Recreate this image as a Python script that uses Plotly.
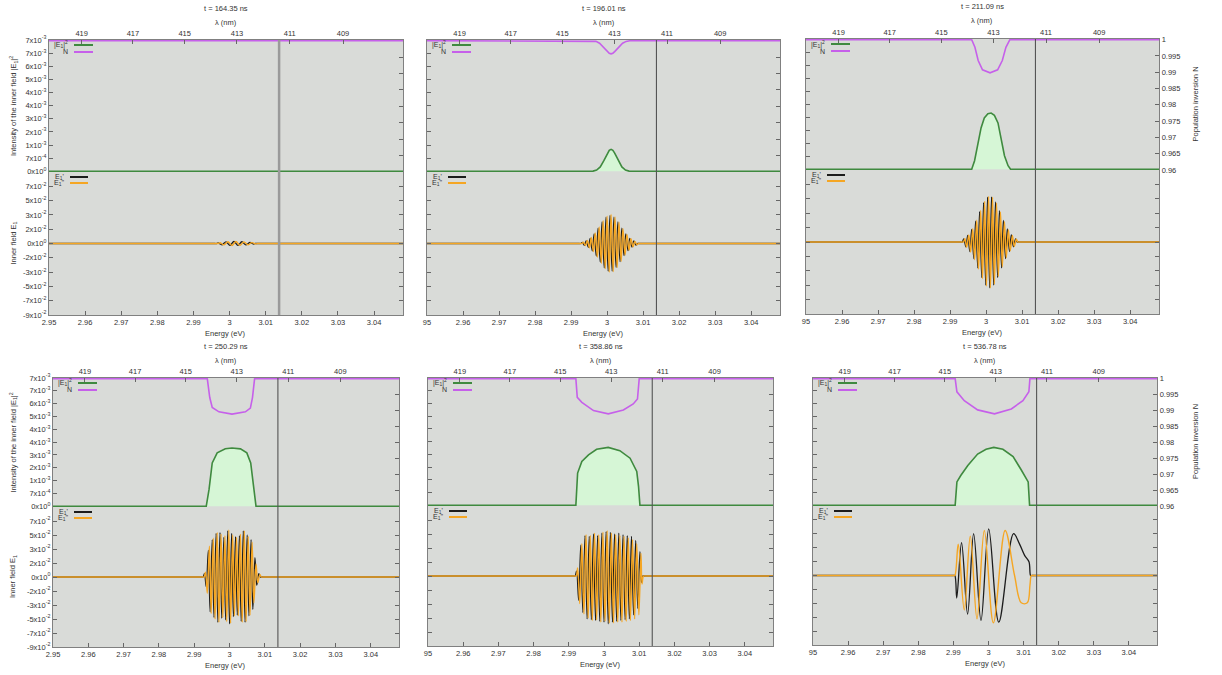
import plotly.graph_objects as go

W, H = 1222, 675
HC_EV_NM = 1239.84  # photon energy (eV) * wavelength (nm)

# ---------------------------------------------------------------- data
times_ns = ["164.35", "196.01", "211.09", "250.29", "358.86", "536.78"]
energy_min, energy_max = 2.95, 3.048
energy_tickvals = [2.95, 2.96, 2.97, 2.98, 2.99, 3.00, 3.01, 3.02, 3.03, 3.04]
energy_ticktext = ["2.95", "2.96", "2.97", "2.98", "2.99", "3", "3.01", "3.02", "3.03", "3.04"]
energy_ticktext_cut = ["95", "2.96", "2.97", "2.98", "2.99", "3", "3.01", "3.02", "3.03", "3.04"]
wavelength_ticks_nm = [419, 417, 415, 413, 411, 409]
transition_energy = 3.0137

intensity_tickvals = [0, 0.00073, 0.00146, 0.00219, 0.00292, 0.00365, 0.00438, 0.00511, 0.00584, 0.00657, 0.0073]
intensity_ticktext = ["0x10<sup>0</sup>", "7x10<sup>-4</sup>", "1x10<sup>-3</sup>", "2x10<sup>-3</sup>",
                      "3x10<sup>-3</sup>", "4x10<sup>-3</sup>", "4x10<sup>-3</sup>", "5x10<sup>-3</sup>",
                      "6x10<sup>-3</sup>", "7x10<sup>-3</sup>", "7x10<sup>-3</sup>"]
field_tickvals = [-0.0865, -0.0692, -0.0519, -0.0346, -0.0173, 0, 0.0173, 0.0346, 0.0519, 0.0692, 0.0865]
field_ticktext = ["-9x10<sup>-2</sup>", "-7x10<sup>-2</sup>", "-5x10<sup>-2</sup>", "-3x10<sup>-2</sup>",
                  "-2x10<sup>-2</sup>", "0x10<sup>0</sup>", "2x10<sup>-2</sup>", "3x10<sup>-2</sup>",
                  "5x10<sup>-2</sup>", "7x10<sup>-2</sup>", " "]
inversion_tickvals = [0.96, 0.965, 0.97, 0.975, 0.98, 0.985, 0.99, 0.995, 1.0]
inversion_ticktext = ["0.96", "0.965", "0.97", "0.975", "0.98", "0.985", "0.99", "0.995", "1"]

# ---- panel 1 (t = 164.35 ns)
int_e_1 = [2.95, 3.048]
int_1 = [0.0, 0.0]
inv_e_1 = [2.95, 3.048]
inv_1 = [1.0, 1.0]
re_e_1 = [2.95, 2.9960, 2.9964, 2.9968, 2.9979, 2.9990, 3.0001, 3.0012, 3.0023, 3.0034, 3.0045, 3.0056, 3.0067,
          3.0071, 3.0075, 3.048]
re_1 = [0, 0, 0, 0.0008, -0.0015, 0.0020, -0.0023, 0.0024, -0.0023, 0.0021, -0.0017, 0.0012, -0.0006, 0, 0, 0]
im_e_1 = [2.95, 2.9965, 2.9969, 2.99735, 2.99845, 2.99955, 3.00065, 3.00175, 3.00285, 3.00395, 3.00505, 3.00615,
          3.00725, 3.0077, 3.0081, 3.048]
im_1 = [0, 0, 0, 0.0009, -0.0016, 0.0021, -0.0024, 0.0024, -0.0022, 0.0019, -0.0015, 0.0010, -0.0005, 0, 0, 0]

# ---- panel 2 (t = 196.01 ns)
int_e_2 = [2.95, 2.9961, 2.9971, 2.9981, 2.9991, 3.0001, 3.0006, 3.0011, 3.0016, 3.0021, 3.0031, 3.0041, 3.0051,
           3.0061, 3.048]
int_2 = [0, 0.00001, 0.00007, 0.00024, 0.00059, 0.00101, 0.00116, 0.00122, 0.00116, 0.00101, 0.00059, 0.00024,
         0.00007, 0.00001, 0]
inv_e_2 = [2.95, 2.9959, 2.9969, 2.9979, 2.9990, 3.0001, 3.0006, 3.0011, 3.0016, 3.0021, 3.0032, 3.0043, 3.0053,
           3.0063, 3.048]
inv_2 = [1, 0.99996, 0.99977, 0.99922, 0.99808, 0.99668, 0.99618, 0.99600, 0.99618, 0.99668, 0.99808, 0.99922,
         0.99977, 0.99996, 1]
re_e_2 = [2.95, 2.9923, 2.9927, 2.9931, 2.9937, 2.9942, 2.9948, 2.9953, 2.9959, 2.9964, 2.9970, 2.9975, 2.9981,
          2.9986, 2.9992, 2.9997, 3.0003, 3.0008, 3.0014, 3.0019, 3.0025, 3.0030, 3.0036, 3.0041, 3.0047, 3.0052,
          3.0058, 3.0063, 3.0069, 3.0074, 3.0080, 3.0084, 3.0088, 3.048]
re_2 = [0, 0, 0, 0.0013, -0.0021, 0.0030, -0.0046, 0.0063, -0.0090, 0.0116, -0.0153, 0.0186, -0.0227, 0.0260,
        -0.0295, 0.0318, -0.0335, 0.0340, -0.0333, 0.0318, -0.0290, 0.0260, -0.0220, 0.0186, -0.0146, 0.0116,
        -0.0085, 0.0063, -0.0043, 0.0030, -0.0019, 0, 0, 0]
im_e_2 = [2.95, 2.9926, 2.9930, 2.9934, 2.9940, 2.9945, 2.9951, 2.9956, 2.9962, 2.9967, 2.9973, 2.9978, 2.9984,
          2.9989, 2.9995, 3.0000, 3.0006, 3.0011, 3.0017, 3.0022, 3.0028, 3.0033, 3.0039, 3.0044, 3.0050, 3.0055,
          3.0061, 3.0066, 3.0072, 3.0077, 3.0083, 3.0087, 3.0091, 3.048]
im_2 = [0, 0, 0, 0.0016, -0.0025, 0.0036, -0.0052, 0.0072, -0.0098, 0.0128, -0.0165, 0.0200, -0.0240, 0.0275,
        -0.0305, 0.0330, -0.0345, 0.0350, -0.0340, 0.0322, -0.0292, 0.0258, -0.0216, 0.0180, -0.0140, 0.0108,
        -0.0079, 0.0057, -0.0039, 0.0026, -0.0016, 0, 0, 0]

# ---- panel 3 (t = 211.09 ns)
int_e_3 = [2.95, 2.9960, 2.9968, 2.9977, 2.9986, 2.9995, 3.0005, 3.0014, 3.0023, 3.0033, 3.0042, 3.0051, 3.0061,
           3.0068, 3.048]
int_3 = [0, 0, 0.00048, 0.0014, 0.00232, 0.00288, 0.00311, 0.00315, 0.00302, 0.0026, 0.00177, 0.00076, 0.0002,
         0, 0]
inv_e_3 = [2.95, 2.9960, 2.9969, 2.9978, 2.9990, 3.0011, 3.0032, 3.0045, 3.0055, 3.0066, 3.048]
inv_3 = [1, 1, 0.99766, 0.99359, 0.99074, 0.98982, 0.99074, 0.99359, 0.99766, 1, 1]
re_e_3 = [2.95, 2.9930, 2.9934, 2.9938, 2.9944, 2.9949, 2.9955, 2.9960, 2.9966, 2.9971, 2.9977, 2.9982, 2.9988,
          2.9993, 2.9999, 3.0004, 3.0010, 3.0015, 3.0021, 3.0026, 3.0032, 3.0037, 3.0043, 3.0048, 3.0054, 3.0059,
          3.0065, 3.0070, 3.0076, 3.0082, 3.0086, 3.0090, 3.048]
re_3 = [0, 0, 0, 0.0037, -0.0057, 0.0079, -0.0114, 0.0150, -0.0200, 0.0249, -0.0312, 0.0366, -0.0427, 0.0474,
        -0.0517, 0.0540, -0.0550, 0.0543, -0.0517, 0.0481, -0.0427, 0.0376, -0.0312, 0.0259, -0.0200, 0.0158,
        -0.0114, 0.0085, -0.0057, 0.0037, 0, 0, 0]
im_e_3 = [2.95, 2.9933, 2.9937, 2.9941, 2.9946, 2.9952, 2.9957, 2.9963, 2.9968, 2.9974, 2.9979, 2.9985, 2.9990,
          2.9996, 3.0001, 3.0007, 3.0012, 3.0018, 3.0023, 3.0029, 3.0034, 3.0040, 3.0045, 3.0051, 3.0056, 3.0062,
          3.0067, 3.0073, 3.0078, 3.0084, 3.0088, 3.0092, 3.048]
im_3 = [0, 0, 0, 0.0040, -0.0062, 0.0086, -0.0122, 0.0160, -0.0212, 0.0262, -0.0325, 0.0380, -0.0440, 0.0488,
        -0.0528, 0.0548, -0.0552, 0.0538, -0.0508, 0.0468, -0.0412, 0.0360, -0.0296, 0.0244, -0.0188, 0.0147,
        -0.0105, 0.0078, -0.0052, 0.0033, 0, 0, 0]

# ---- panel 4 (t = 250.29 ns)
int_e_4 = [2.95, 2.9934, 2.9942, 2.9951, 2.9965, 2.9988, 3.0007, 3.0031, 3.0049, 3.0060, 3.0068, 3.0075, 3.048]
int_4 = [0, 0, 0.00096, 0.00247, 0.00304, 0.00327, 0.00332, 0.00327, 0.00304, 0.00247, 0.00115, 0, 0]
inv_e_4 = [2.95, 2.9937, 2.9944, 2.9951, 2.9970, 3.0007, 3.0045, 3.0059, 3.0065, 3.0071, 3.048]
inv_4 = [1, 1, 0.99411, 0.9910, 0.98966, 0.98894, 0.98966, 0.9908, 0.99411, 1, 1]
re_e_4 = [2.95, 2.9921, 2.9925, 2.9929, 2.9934, 2.9940, 2.9945, 2.9951, 2.9956, 2.9962, 2.9967, 2.9973, 2.9978,
          2.9984, 2.9989, 2.9995, 3.0000, 3.0006, 3.0011, 3.0017, 3.0022, 3.0028, 3.0033, 3.0039, 3.0044, 3.0050,
          3.0055, 3.0061, 3.0066, 3.0072, 3.0077, 3.0083, 3.0087, 3.0091, 3.048]
re_4 = [0, 0, 0, 0.004, -0.012, 0.033, -0.043, 0.046, -0.050, 0.054, -0.056, 0.055, -0.051, 0.049, -0.053, 0.057,
        -0.058, 0.054, -0.049, 0.050, -0.047, 0.051, -0.055, 0.057, -0.056, 0.052, -0.048, 0.046, -0.040, 0.024,
        -0.010, 0.004, 0, 0, 0]
im_e_4 = [2.95, 2.9924, 2.9928, 2.9932, 2.9937, 2.9943, 2.9948, 2.9954, 2.9959, 2.9965, 2.9970, 2.9976, 2.9981,
          2.9987, 2.9992, 2.9998, 3.0003, 3.0009, 3.0014, 3.0020, 3.0025, 3.0031, 3.0036, 3.0042, 3.0047, 3.0053,
          3.0058, 3.0064, 3.0069, 3.0075, 3.0080, 3.0086, 3.0090, 3.0094, 3.048]
im_4 = [0, 0, 0, 0.006, -0.020, 0.038, -0.045, 0.048, -0.052, 0.055, -0.056, 0.053, -0.050, 0.051, -0.055, 0.058,
        -0.057, 0.052, -0.048, 0.049, -0.048, 0.053, -0.056, 0.057, -0.055, 0.050, -0.047, 0.043, -0.032, 0.016,
        -0.007, 0.003, 0, 0, 0]

# ---- panel 5 (t = 358.86 ns)
int_e_5 = [2.95, 2.9920, 2.9925, 2.9937, 2.9956, 2.9979, 3.0012, 3.0045, 3.0074, 3.0093, 3.0098, 3.0102, 3.048]
int_5 = [0, 0, 0.00185, 0.00251, 0.00289, 0.00321, 0.00332, 0.00313, 0.0027, 0.00194, 0.00109, 0, 0]
inv_e_5 = [2.95, 2.9920, 2.9924, 2.9937, 2.9970, 3.0012, 3.0055, 3.0083, 3.0095, 3.0100, 3.048]
inv_5 = [1, 1, 0.99411, 0.99256, 0.98997, 0.98894, 0.99018, 0.99204, 0.99359, 1, 1]
re_e_5 = [2.95, 2.9914, 2.9918, 2.9922, 2.9928, 2.9934, 2.9940, 2.9946, 2.9952, 2.9958, 2.9964, 2.9970, 2.9976,
          2.9982, 2.9988, 2.9994, 3.0000, 3.0006, 3.0012, 3.0018, 3.0024, 3.0030, 3.0036, 3.0042, 3.0048, 3.0054,
          3.0060, 3.0066, 3.0072, 3.0078, 3.0084, 3.0090, 3.0096, 3.0102, 3.0106, 3.0110, 3.0114, 3.048]
re_5 = [0, 0, 0, 0.006, -0.030, 0.038, -0.045, 0.050, -0.053, 0.049, -0.054, 0.052, -0.055, 0.050, -0.056, 0.053,
        -0.057, 0.055, -0.059, 0.054, -0.057, 0.052, -0.056, 0.053, -0.055, 0.051, -0.054, 0.050, -0.053, 0.049,
        -0.048, 0.044, -0.040, 0.030, -0.008, 0, 0, 0]
im_e_5 = [2.95, 2.9917, 2.9921, 2.9925, 2.9931, 2.9937, 2.9943, 2.9949, 2.9955, 2.9961, 2.9967, 2.9973, 2.9979,
          2.9985, 2.9991, 2.9997, 3.0003, 3.0009, 3.0015, 3.0021, 3.0027, 3.0033, 3.0039, 3.0045, 3.0051, 3.0057,
          3.0063, 3.0069, 3.0075, 3.0081, 3.0087, 3.0093, 3.0099, 3.0105, 3.0108, 3.0112, 3.0116, 3.048]
im_5 = [0, 0, 0, 0.010, -0.034, 0.040, -0.047, 0.051, -0.052, 0.050, -0.055, 0.053, -0.054, 0.051, -0.057, 0.054,
        -0.056, 0.056, -0.058, 0.053, -0.058, 0.051, -0.057, 0.050, -0.057, 0.049, -0.056, 0.047, -0.055, 0.045,
        -0.053, 0.040, -0.048, 0.028, -0.010, 0, 0, 0]

# ---- panel 6 (t = 536.78 ns)
int_e_6 = [2.95, 2.9905, 2.9910, 2.9921, 2.9941, 2.9969, 2.9993, 3.0015, 3.0041, 3.0070, 3.0093, 3.0113, 3.0117,
           3.048]
int_6 = [0, 0, 0.00134, 0.00171, 0.00228, 0.00294, 0.00321, 0.00332, 0.00321, 0.00279, 0.00204, 0.00134, 0, 0]
inv_e_6 = [2.95, 2.9905, 2.9910, 2.9931, 2.9969, 3.0017, 3.0065, 3.0098, 3.0115, 3.0118, 3.048]
inv_6 = [1, 1, 0.99586, 0.99307, 0.99018, 0.98894, 0.99049, 0.99307, 0.99586, 1, 1]
re_e_6 = [2.95, 2.9896, 2.9900, 2.9904, 2.99095, 2.99232, 2.99404, 2.99576, 2.99786, 3.00006, 3.00293, 3.00713,
          3.00885, 3.01028, 3.01153, 3.0120, 3.0124, 3.0128, 3.048]
re_6 = [0, 0, 0, 0, -0.028, 0.041, -0.048, 0.052, -0.056, 0.058, -0.058, 0.052, 0.039, 0.025, 0.017, 0, 0, 0, 0]
im_e_6 = [2.95, 2.9896, 2.9900, 2.9904, 2.99137, 2.99309, 2.99481, 2.99672, 2.99881, 3.00139, 3.00474, 3.00742,
          3.00933, 3.01105, 3.01181, 3.0122, 3.0126, 3.0130, 3.048]
im_6 = [0, 0, 0, 0, 0.039, -0.043, 0.049, -0.054, 0.056, -0.059, 0.056, 0.0, -0.034, -0.034, -0.012, 0, 0, 0, 0]

panels = [
    (int_e_1, int_1, inv_e_1, inv_1, re_e_1, re_1, im_e_1, im_1),
    (int_e_2, int_2, inv_e_2, inv_2, re_e_2, re_2, im_e_2, im_2),
    (int_e_3, int_3, inv_e_3, inv_3, re_e_3, re_3, im_e_3, im_3),
    (int_e_4, int_4, inv_e_4, inv_4, re_e_4, re_4, im_e_4, im_4),
    (int_e_5, int_5, inv_e_5, inv_5, re_e_5, re_5, im_e_5, im_5),
    (int_e_6, int_6, inv_e_6, inv_6, re_e_6, re_6, im_e_6, im_6),
]

# ---------------------------------------------------------------- layout / style
# plot-area boxes in pixels: left, right, top, middle (split), bottom
panel_px = [
    (49, 403, 40, 172, 315),
    (427, 780, 40, 172, 315),
    (806, 1159, 39, 170, 314),
    (53, 399, 378, 507, 647),
    (428, 773, 378, 506, 646),
    (813, 1157, 378, 506, 645),
]
panel_col = [0, 1, 2, 0, 1, 2]
vline_style = [("#9a9a9a", 2.5), ("#555555", 1.1), ("#555555", 1.1),
               ("#555555", 1.1), ("#555555", 1.1), ("#555555", 1.1)]

FONT = "Liberation Sans, Arial, sans-serif"
BG = "#d9dbd8"
FRAME = "#808080"
GREEN = "#3f8a3f"
GREEN_FILL = "#d6f6d6"
PURPLE = "#c660ea"
BLACK = "#1c1c1c"
ORANGE = "#f5a623"
TXT = "#333333"
FS = 7.5


def fx(px):
    return px / W


def fy(py):
    return 1 - py / H


def axname(kind, k):
    return f"{kind}axis" if k == 1 else f"{kind}axis{k}"


def axref(kind, k):
    return kind if k == 1 else f"{kind}{k}"


base_axis = dict(showline=True, linecolor=FRAME, linewidth=1.3, ticks="inside", ticklen=4,
                 tickcolor="#666666", tickwidth=1, showgrid=False, zeroline=False, automargin=False,
                 tickfont=dict(size=FS, color=TXT, family=FONT), tickmode="array")

fig = go.Figure()
layout = {}
shapes = []
annotations = []


def note(text, x, y, size=FS, angle=0, xanchor="center", yanchor="middle"):
    annotations.append(dict(text=text, x=x, y=y, xref="paper", yref="paper", showarrow=False,
                            textangle=angle, xanchor=xanchor, yanchor=yanchor,
                            font=dict(size=size, color=TXT, family=FONT)))


for i, (ie, ii, ne, nn, re_e, re_v, im_e, im_v) in enumerate(panels):
    l, r, t, m, b = panel_px[i]
    col = panel_col[i]
    xu, xl = 2 * i + 1, 2 * i + 2
    yu, yn, yl = 3 * i + 1, 3 * i + 2, 3 * i + 3

    layout[axname("x", xu)] = dict(base_axis, domain=[fx(l), fx(r)], anchor=axref("y", yu),
                                   range=[energy_min, energy_max], side="top",
                                   tickvals=[HC_EV_NM / w for w in wavelength_ticks_nm],
                                   ticktext=[str(w) for w in wavelength_ticks_nm])
    layout[axname("y", yu)] = dict(base_axis, domain=[fy(m), fy(t)], anchor=axref("x", xu),
                                   range=[-0.00004, 0.0073], tickvals=intensity_tickvals,
                                   ticktext=intensity_ticktext, showticklabels=(col == 0))
    layout[axname("y", yn)] = dict(base_axis, overlaying=axref("y", yu), anchor=axref("x", xu),
                                   side="right", range=[0.96, 1.0002], tickvals=inversion_tickvals,
                                   ticktext=inversion_ticktext, showticklabels=(col == 2))
    layout[axname("x", xl)] = dict(base_axis, domain=[fx(l), fx(r)], anchor=axref("y", yl),
                                   range=[energy_min, energy_max], side="bottom",
                                   tickvals=energy_tickvals,
                                   ticktext=energy_ticktext if col == 0 else energy_ticktext_cut)
    layout[axname("y", yl)] = dict(base_axis, domain=[fy(b), fy(m)], anchor=axref("x", xl),
                                   range=[-0.0865, 0.0865], tickvals=field_tickvals,
                                   ticktext=field_ticktext, showticklabels=(col == 0), mirror="ticks")

    # intensity |E1|^2 (filled) and population inversion N
    fig.add_trace(go.Scatter(x=ie, y=ii, xaxis=axref("x", xu), yaxis=axref("y", yu), mode="lines",
                             line=dict(color=GREEN, width=1.6), fill="tozeroy", fillcolor=GREEN_FILL,
                             showlegend=False, name="|E1|^2"))
    fig.add_trace(go.Scatter(x=ne, y=nn, xaxis=axref("x", xu), yaxis=axref("y", yn), mode="lines",
                             line=dict(color=PURPLE, width=1.6), showlegend=False, name="N"))
    # inner field components
    fig.add_trace(go.Scatter(x=re_e, y=re_v, xaxis=axref("x", xl), yaxis=axref("y", yl), mode="lines",
                             line=dict(color=BLACK, width=1.3, shape="spline", smoothing=1.0),
                             showlegend=False, name="E1'"))
    fig.add_trace(go.Scatter(x=im_e, y=im_v, xaxis=axref("x", xl), yaxis=axref("y", yl), mode="lines",
                             line=dict(color=ORANGE, width=1.4, shape="spline", smoothing=1.0),
                             showlegend=False, name="E1''"))

    # vertical marker at the transition energy through both plots
    vc, vw = vline_style[i]
    shapes.append(dict(type="line", xref=axref("x", xl), yref="paper", x0=transition_energy,
                       x1=transition_energy, y0=fy(b), y1=fy(t), line=dict(color=vc, width=vw),
                       layer="above"))

    # legend keys (gnuplot style: text then sample line)
    keys = [("|E<sub>1</sub>|<sup>2</sup>", GREEN, t + 5, 25, 44),
            ("N", PURPLE, t + 12, 25, 44),
            ("E<sub>1</sub>'", BLACK, m + 5, 21, 39),
            ("E<sub>1</sub>''", ORANGE, m + 11, 21, 39)]
    for txt, colr, ky, k0, k1 in keys:
        note(txt, fx(l + k0 - 4), fy(ky), size=7, xanchor="right")
        shapes.append(dict(type="line", xref="paper", yref="paper", x0=fx(l + k0), x1=fx(l + k1),
                           y0=fy(ky), y1=fy(ky), line=dict(color=colr, width=2)))

    # titles
    cx = fx((l + r) / 2)
    note(f"t = {times_ns[i]} ns", cx, fy(t - 32))
    note("λ (nm)", cx, fy(t - 18))
    note("Energy (eV)", cx, fy(b + 18))
    if col == 0:
        note("Intensity of the inner field |E<sub>1</sub>|<sup>2</sup>", fx(13), fy((t + m) / 2), angle=-90)
        note("Inner field E<sub>1</sub>", fx(13), fy((m + b) / 2), angle=-90)
    if col == 2:
        note("Population inversion N", fx(1195), fy((t + m) / 2), angle=-90)

fig.update_layout(
    width=W, height=H,
    margin=dict(l=0, r=0, t=0, b=0, autoexpand=False),
    paper_bgcolor="white",
    plot_bgcolor=BG,
    showlegend=False,
    font=dict(family=FONT, size=FS, color=TXT),
    shapes=shapes,
    annotations=annotations,
    **layout,
)

fig.write_html("out.html", config={"displayModeBar": False},
               post_script="document.body.style.margin='0px';document.body.style.overflow='hidden';")
